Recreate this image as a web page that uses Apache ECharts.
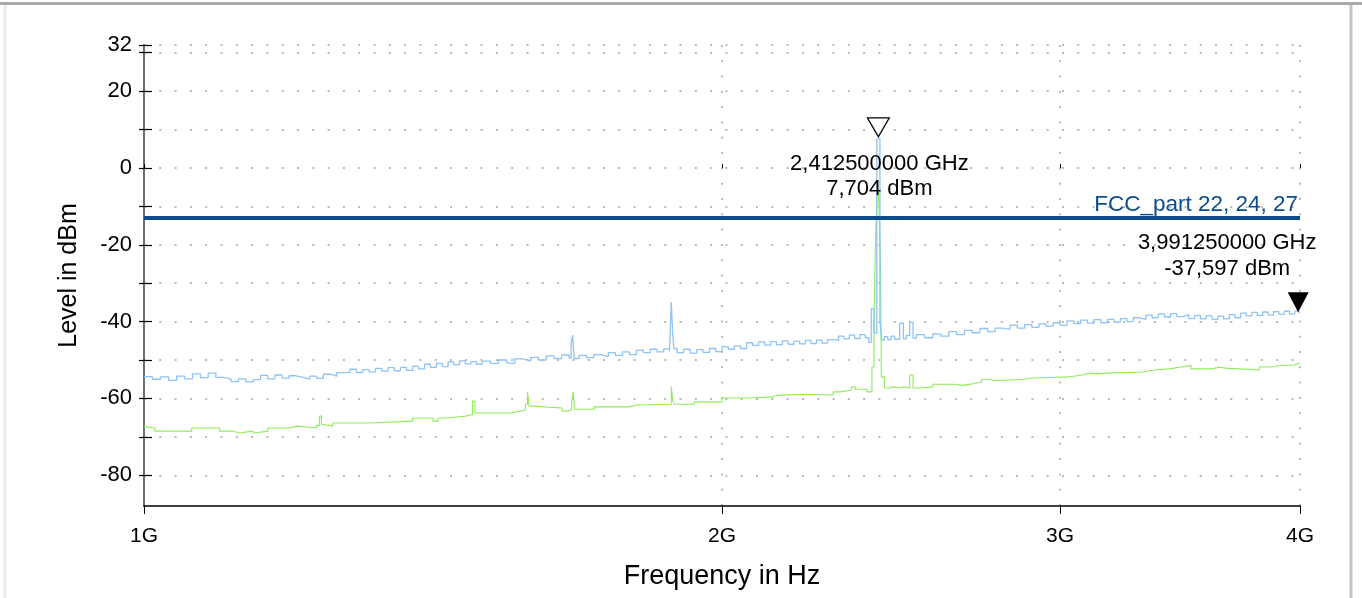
<!DOCTYPE html>
<html><head><meta charset="utf-8">
<script src="https://cdn.jsdelivr.net/npm/echarts@6/dist/echarts.min.js"></script>
<style>html,body{margin:0;padding:0;background:#fff}#c{width:1362px;height:598px}</style>
</head><body><div id="c"></div>
<script>
// ---- data ----
const xTickValues = [1, 2, 3, 4];            // GHz
const yTickValues = [-80,-70,-60,-50,-40,-30,-20,-10,0,10,20,30,32];
const yLabelValues = [-80,-60,-40,-20,0,20,32];
const limitLevel = -13;
const limitName = 'FCC_part 22, 24, 27';
const markerFreq = [2.4125, 3.99125];        // GHz
const markerLevel = [7.704, -37.597];        // dBm
// peak detector trace (light blue): [GHz, dBm]
const peakTrace = [
[1.00,-54.3],[1.01,-55.0],[1.02,-54.4],[1.03,-55.3],[1.04,-54.2],[1.05,-54.9],[1.06,-53.6],[1.07,-54.6],[1.08,-53.4],[1.09,-54.5],
[1.10,-55.0],[1.11,-55.6],[1.12,-54.9],[1.13,-55.7],[1.14,-55.1],[1.15,-54.0],[1.16,-54.9],[1.17,-53.9],[1.18,-54.7],[1.19,-54.1],
[1.20,-54.5],[1.21,-55.0],[1.22,-54.2],[1.23,-54.8],[1.24,-53.7],[1.25,-54.2],[1.26,-53.3],[1.27,-53.2],[1.28,-52.4],[1.29,-53.3],
[1.30,-52.5],[1.31,-53.1],[1.32,-52.2],[1.33,-52.9],[1.34,-52.0],[1.35,-52.8],[1.36,-51.9],[1.37,-52.7],[1.38,-51.6],[1.39,-52.3],
[1.40,-51.1],[1.41,-51.9],[1.42,-50.9],[1.43,-51.7],[1.44,-50.5],[1.45,-51.2],[1.46,-50.2],[1.47,-51.0],[1.48,-50.4],[1.49,-51.1],
[1.50,-50.3],[1.515,-50.9],[1.53,-50.0],[1.545,-50.8],[1.56,-49.7],[1.575,-50.2],[1.59,-49.3],[1.605,-50.0],[1.62,-48.9],[1.635,-49.6],
[1.65,-48.7],[1.665,-49.5],[1.669,-45.5],[1.672,-43.5],[1.675,-49.6],[1.685,-48.8],[1.70,-49.4],[1.715,-48.6],[1.73,-49.1],[1.745,-48.1],
[1.76,-48.8],[1.775,-47.9],[1.79,-48.6],[1.805,-47.4],[1.82,-48.1],[1.835,-47.2],[1.85,-47.9],[1.865,-47.1],[1.878,-47.8],[1.882,-34.9],
[1.885,-43.0],[1.888,-47.0],[1.895,-48.1],[1.91,-47.2],[1.925,-48.2],[1.94,-47.3],[1.955,-48.0],[1.97,-47.0],[1.985,-47.8],[2.00,-46.5],
[2.015,-47.2],[2.03,-46.3],[2.045,-47.0],[2.06,-45.5],[2.075,-46.2],[2.09,-45.3],[2.105,-46.1],[2.12,-45.2],[2.135,-46.0],[2.15,-45.0],
[2.165,-45.9],[2.18,-45.1],[2.195,-45.8],[2.21,-44.9],[2.225,-45.7],[2.24,-44.8],[2.255,-45.6],[2.27,-44.7],[2.285,-44.9],[2.30,-43.8],
[2.315,-44.5],[2.33,-43.5],[2.345,-44.4],[2.36,-43.4],[2.375,-44.2],[2.385,-45.4],[2.392,-36.7],[2.400,-43.0],[2.408,7.5],[2.4125,7.704],
[2.417,-39.6],[2.422,-44.8],[2.43,-43.9],[2.44,-44.7],[2.45,-43.8],[2.46,-44.6],[2.475,-40.4],[2.486,-44.5],[2.495,-43.6],[2.505,-40.2],
[2.515,-44.3],[2.525,-43.4],[2.55,-44.2],[2.575,-43.2],[2.60,-43.8],[2.625,-42.6],[2.65,-43.4],[2.675,-42.3],[2.70,-42.9],[2.725,-41.8],
[2.75,-42.6],[2.775,-41.7],[2.80,-42.0],[2.825,-40.9],[2.85,-41.7],[2.875,-40.8],[2.90,-41.5],[2.925,-40.6],[2.95,-41.2],[2.975,-40.3],
[3.00,-41.0],[3.025,-39.8],[3.05,-40.5],[3.075,-39.6],[3.10,-40.4],[3.125,-39.5],[3.15,-40.3],[3.175,-39.4],[3.20,-40.1],[3.225,-39.2],
[3.25,-40.0],[3.275,-39.0],[3.30,-39.4],[3.325,-38.3],[3.35,-39.0],[3.375,-38.0],[3.40,-38.8],[3.425,-37.9],[3.45,-38.7],[3.475,-38.2],
[3.50,-39.2],[3.525,-38.4],[3.55,-39.3],[3.575,-38.5],[3.60,-39.4],[3.625,-38.6],[3.65,-39.3],[3.675,-38.2],[3.70,-39.0],[3.725,-37.8],
[3.75,-38.5],[3.775,-37.6],[3.80,-38.4],[3.825,-37.5],[3.85,-38.3],[3.875,-37.4],[3.90,-38.1],[3.925,-37.3],[3.95,-38.0],[3.975,-37.2],
[3.99125,-37.597],[4.00,-37.8]
];
// average detector trace (green): [GHz, dBm], step changes
const avgTrace = [
[1.000,-67.4],[1.004,-67.7],[1.013,-68.5],[1.059,-67.7],[1.095,-68.5],[1.112,-69.0],[1.122,-68.5],[1.138,-69.0],[1.142,-68.5],[1.160,-67.7],
[1.190,-67.2],[1.201,-67.7],[1.230,-67.0],[1.234,-64.6],[1.237,-66.8],[1.240,-67.2],[1.254,-66.4],[1.311,-65.9],[1.380,-65.1],[1.414,-65.9],
[1.423,-65.1],[1.440,-64.6],[1.470,-64.2],[1.483,-60.7],[1.487,-63.8],[1.550,-63.5],[1.563,-63.0],[1.580,-61.5],[1.584,-58.3],[1.587,-62.0],
[1.594,-62.5],[1.651,-63.3],[1.660,-63.0],[1.670,-61.0],[1.673,-58.3],[1.676,-62.8],[1.716,-62.2],[1.790,-61.7],[1.805,-61.5],[1.882,-57.0],
[1.885,-60.5],[1.888,-61.5],[1.935,-60.9],[2.000,-59.9],[2.070,-59.6],[2.125,-59.2],[2.135,-58.9],[2.197,-59.1],[2.285,-58.3],[2.305,-57.8],
[2.336,-57.0],[2.346,-57.6],[2.380,-58.3],[2.394,-51.8],[2.400,-40.0],[2.404,-20.0],[2.408,-8.0],[2.4125,-6.2],[2.416,-15.0],[2.419,-27.0],
[2.421,-54.4],[2.430,-57.3],[2.445,-57.0],[2.454,-57.3],[2.475,-57.0],[2.486,-57.3],[2.505,-53.9],[2.515,-57.3],[2.540,-57.0],[2.575,-56.3],
[2.640,-56.8],[2.645,-56.6],[2.670,-56.2],[2.700,-55.7],[2.730,-55.0],[2.760,-55.4],[2.770,-55.0],[2.870,-54.7],[2.900,-54.4],[3.030,-53.9],
[3.080,-53.4],[3.110,-53.6],[3.140,-53.4],[3.170,-53.1],[3.310,-52.6],[3.360,-52.3],[3.420,-51.8],[3.470,-51.4],[3.510,-52.3],[3.600,-51.9],
[3.630,-52.1],[3.660,-52.6],[3.810,-51.8],[3.860,-51.5],[3.900,-51.3],[3.970,-50.8],[4.000,-50.8]
];

// ---- chart ----
const FONT = 'Liberation Sans, Arial, sans-serif';
const fmtNum = (v, d) => v.toFixed(d).replace('.', ',');
const markerText = i => fmtNum(markerFreq[i], 9) + ' GHz\n' + fmtNum(markerLevel[i], 3) + ' dBm';
const gridDots = {type:[2, 13.3], width:2, color:'#b9b9b9'};

const chart = echarts.init(document.getElementById('c'), null, {renderer:'canvas'});
chart.setOption({
  animation:false,
  backgroundColor:'#fff',
  textStyle:{fontFamily:FONT},
  grid:{left:144, right:62, top:45, bottom:92, containLabel:false},
  graphic:[
    {type:'line', shape:{x1:0,y1:3.5,x2:1362,y2:3.5}, style:{stroke:'#a9a9a9', lineWidth:3}, silent:true},
    {type:'line', shape:{x1:5,y1:5,x2:5,y2:598}, style:{stroke:'#ececec', lineWidth:3}, silent:true},
    {type:'line', shape:{x1:1351,y1:5,x2:1351,y2:598}, style:{stroke:'#c4c4c4', lineWidth:3}, silent:true}
  ],
  xAxis:[{
    type:'log', logBase:10, min:1, max:4,
    axisLine:{show:true, onZero:false, lineStyle:{color:'#000', width:1.5}},
    axisTick:{show:true, customValues:xTickValues, length:8, lineStyle:{color:'#000', width:1}},
    axisLabel:{show:true, customValues:xTickValues, formatter:v => Math.round(v) + 'G', fontSize:21, color:'#000', margin:20, fontFamily:FONT},
    splitLine:{show:true, lineStyle:gridDots},
    name:'Frequency in Hz', nameLocation:'middle', nameGap:57,
    nameTextStyle:{fontSize:27, color:'#000', fontFamily:FONT}
  },{
    type:'log', logBase:10, min:1, max:4, position:'bottom',
    axisLine:{show:false},
    axisTick:{show:true, inside:true, customValues:xTickValues, length:4, lineStyle:{color:'#000', width:1}},
    axisLabel:{show:false}, splitLine:{show:false}
  }],
  yAxis:[{
    type:'value', min:-88, max:32,
    axisLine:{show:true, onZero:false, lineStyle:{color:'#6e6e6e', width:2}},
    axisTick:{show:true, customValues:yTickValues, length:5, lineStyle:{color:'#000', width:1.2}},
    axisLabel:{show:true, customValues:yLabelValues, fontSize:22, color:'#000', margin:12, fontFamily:FONT},
    splitLine:{show:true, lineStyle:gridDots},
    name:'Level in dBm', nameLocation:'middle', nameGap:62, nameRotate:90,
    nameTextStyle:{fontSize:25, color:'#000', fontFamily:FONT}
  },{
    type:'value', min:-88, max:32, position:'left',
    axisLine:{show:false},
    axisTick:{show:true, inside:true, customValues:yTickValues, length:8, lineStyle:{color:'#000', width:1.2}},
    axisLabel:{show:false}, splitLine:{show:false}
  }],
  series:[
    {
      name:'Average', type:'line', data:avgTrace, step:'end', showSymbol:false, symbol:'none',
      lineStyle:{color:'#8fec5c', width:1.1}, z:2, silent:true
    },
    {
      name:'Peak', type:'line', data:peakTrace, step:'end', showSymbol:false, symbol:'none',
      lineStyle:{color:'#8fc4f5', width:1.3}, z:3, silent:true,
      markPoint:{
        silent:true, animation:false,
        data:[
          {coord:[markerFreq[0], markerLevel[0]], symbol:'triangle', symbolRotate:180, symbolSize:[22,19], symbolOffset:[0,-11],
           itemStyle:{color:'#fff', borderColor:'#000', borderWidth:1.2}, label:{show:false}},
          {coord:[markerFreq[0], markerLevel[0]], symbol:'circle', symbolSize:1, itemStyle:{color:'rgba(0,0,0,0)'},
           label:{show:true, position:'inside', offset:[1,38], formatter:markerText(0), fontSize:22, lineHeight:25, color:'#000', fontFamily:FONT, align:'center'}},
          {coord:[markerFreq[1], markerLevel[1]], symbol:'triangle', symbolRotate:180, symbolSize:[21,20], symbolOffset:[0,-10],
           itemStyle:{color:'#000'}, label:{show:false}},
          {coord:[markerFreq[1], markerLevel[1]], symbol:'circle', symbolSize:1, itemStyle:{color:'rgba(0,0,0,0)'},
           label:{show:true, position:'inside', offset:[-71,-56], formatter:markerText(1), fontSize:22, lineHeight:26, color:'#000', fontFamily:FONT, align:'center'}}
        ]
      }
    },
    {
      name:'Limit', type:'line', data:[], z:5, silent:true,
      markLine:{
        silent:true, animation:false, symbol:'none',
        data:[{yAxis:limitLevel}],
        lineStyle:{color:'#0b4c8c', width:4, type:'solid'},
        label:{show:true, position:'insideEndTop', formatter:limitName, color:'#0b4c8c', fontSize:22.5, distance:2, fontFamily:FONT}
      }
    }
  ]
});
</script>
</body></html>
